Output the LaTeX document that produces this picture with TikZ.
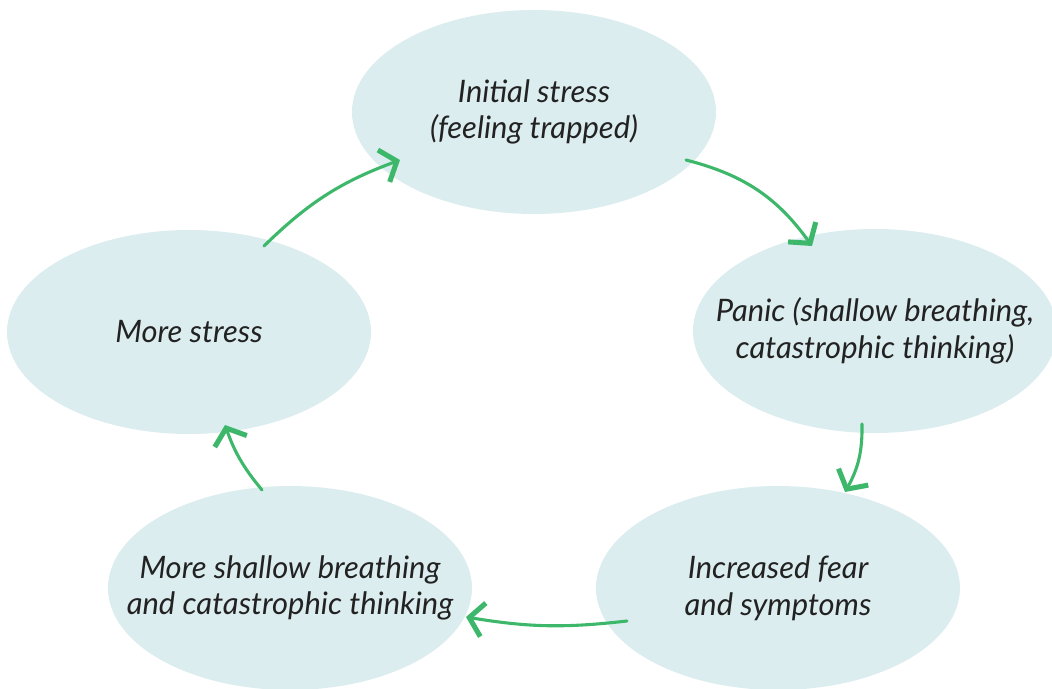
\documentclass[tikz,border=0pt]{standalone}
\usepackage{fontspec}
\setmainfont{Lato}
\usetikzlibrary{arrows.meta, shapes.geometric}
\definecolor{bubble}{HTML}{DCEDEF}
\definecolor{loopgreen}{HTML}{3DB86A}
\definecolor{ink}{HTML}{222222}
\begin{document}
\begin{tikzpicture}[
    stage/.style = {shape = ellipse, fill = bubble, minimum width = 9.1cm, minimum height = 5.1cm, inner sep = 0pt},
    caption/.style = {align = center, text = ink, inner sep = 0pt, font = \itshape\fontsize{22}{26}\selectfont},
    flow/.style = {draw = loopgreen, line width = 2.2pt, line cap = round,
        -{Straight Barb[length = 3.5mm, width = 8.5mm, line width = 3.6pt]}}]
    \clip (0, 0) rectangle (26.3, 17.2);
    % the five stages of the loop
    \node[stage, label = {[caption]center:{Initial stress\\(feeling trapped)}}] (stress) at (13.35, 14.4) {};
    \node[stage, label = {[caption]center:{Panic (shallow breathing,\\catastrophic thinking)}}] (panic) at (21.875, 8.925) {};
    \node[stage, label = {[caption]center:{Increased fear\\and symptoms}}] (fear) at (19.45, 2.5) {};
    \node[stage, label = {[caption]center:{More shallow breathing\\and catastrophic thinking}}] (shallow) at (7.25, 2.5) {};
    \node[stage, label = {[caption]center:{More stress}}] (more) at (4.725, 8.9) {};
    % arrows round the loop
    \draw[flow] ([shift = {(3.8, -1.2)}]stress.center) to[bend left = 20] ([shift = {(-1.575, 2.125)}]panic.center);
    \draw[flow] ([shift = {(-0.325, -2.325)}]panic.center) to[bend left = 15] ([shift = {(1.675, 2.4)}]fear.center);
    \draw[flow] ([shift = {(-3.775, -0.825)}]fear.center) to[bend left = 8] ([shift = {(4.4, -0.725)}]shallow.center);
    \draw[flow] ([shift = {(-0.7, 2.45)}]shallow.center) to[bend left = 10] ([shift = {(0.9, -2.325)}]more.center);
    \draw[flow] ([shift = {(1.875, 2.15)}]more.center) to[bend left = 12] ([shift = {(-3.35, -1.2)}]stress.center);
\end{tikzpicture}
\end{document}
